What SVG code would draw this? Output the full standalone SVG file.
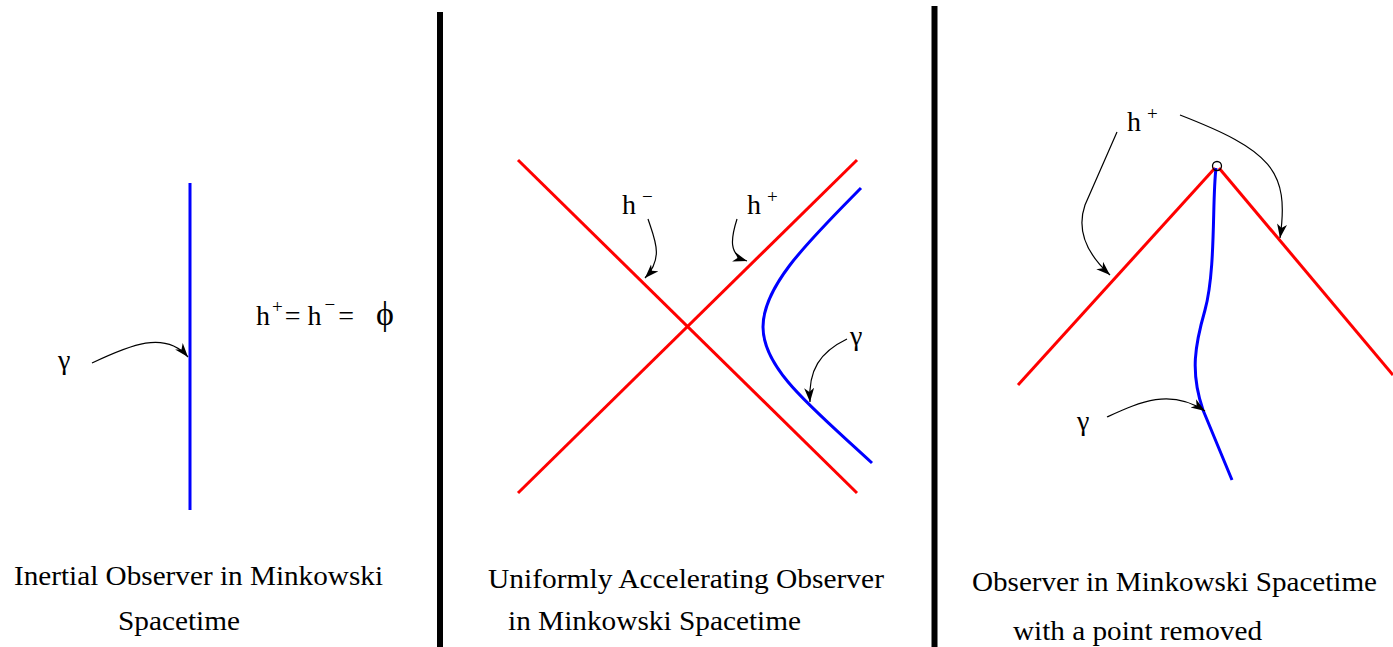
<svg xmlns="http://www.w3.org/2000/svg" width="1393" height="647" viewBox="0 0 1393 647">
<style>
.t{font-family:"Liberation Serif","Times New Roman",serif;fill:#000}
.cap{font-size:27px}
.lbl{font-size:28px}
.sup{font-size:19px}
.red{stroke:#ff0000;stroke-width:3;fill:none}
.blue{stroke:#0000ff;stroke-width:3;fill:none;stroke-linejoin:round}
.arr{stroke:#000;stroke-width:1.2;fill:none;marker-end:url(#ah)}
.bar{stroke:#000;stroke-width:6}
</style>
<defs>
<marker id="ah" markerUnits="userSpaceOnUse" markerWidth="16" markerHeight="12" refX="14" refY="5" orient="auto">
<path d="M0,0 L14,5 L0,10 L4,5 Z" fill="#000"/>
</marker>
</defs>

<g id="separators">
<line class="bar" x1="440" y1="12" x2="440" y2="647"/>
<line class="bar" x1="934.5" y1="6" x2="934.5" y2="647"/>
</g>

<g id="panel1">
<g id="p1-worldline"><line class="blue" x1="190" y1="183" x2="190" y2="510"/></g>
<g id="p1-gamma"><text class="t lbl" x="58" y="369">γ</text></g>
<g id="p1-eq"><text class="t lbl" x="256" y="325">h<tspan class="sup" dx="2" dy="-12">+</tspan><tspan dx="2" dy="12">= h</tspan><tspan class="sup" dx="3" dy="-14">−</tspan><tspan dx="3" dy="14">=</tspan><tspan dx="22" font-size="34">ϕ</tspan></text></g>
<g id="p1-caption">
<text class="t cap" x="14" y="585" textLength="369" lengthAdjust="spacingAndGlyphs">Inertial Observer in Minkowski</text>
<text class="t cap" x="118" y="630" textLength="122" lengthAdjust="spacingAndGlyphs">Spacetime</text>
</g>
</g>

<g id="panel2">
<g id="p2-horizons">
<line class="red" x1="518" y1="160" x2="857" y2="493"/>
<line class="red" x1="518" y1="493" x2="857" y2="160"/>
</g>
<g id="p2-worldline"><path class="blue" d="M861,188 C810,240 763,285 763,327 C763,370 815,410 872,463"/></g>
<g id="p2-hminus"><text class="t lbl" x="622" y="214">h<tspan class="sup" dx="6" dy="-11">−</tspan></text></g>
<g id="p2-hplus"><text class="t lbl" x="747" y="214">h<tspan class="sup" dx="6" dy="-11">+</tspan></text></g>
<g id="p2-gamma"><text class="t lbl" x="850" y="345">γ</text></g>
<g id="p2-caption">
<text class="t cap" x="488" y="588" textLength="396" lengthAdjust="spacingAndGlyphs">Uniformly Accelerating Observer</text>
<text class="t cap" x="508" y="630" textLength="293" lengthAdjust="spacingAndGlyphs">in Minkowski Spacetime</text>
</g>
</g>

<g id="panel3">
<g id="p3-lightcone">
<line class="red" x1="1215" y1="168" x2="1018" y2="385"/>
<line class="red" x1="1219" y1="168" x2="1393" y2="375"/>
</g>
<g id="p3-worldline"><path class="blue" d="M1216,168 C1212,200 1216,270 1205,310 C1195,345 1190,372 1203,410 L1232,480"/></g>
<g id="p3-removed"><circle cx="1217" cy="166" r="4.5" fill="none" stroke="#000" stroke-width="1.3"/></g>
<g id="p3-hplus"><text class="t lbl" x="1127" y="131">h<tspan class="sup" dx="6" dy="-11">+</tspan></text></g>
<g id="p3-gamma"><text class="t lbl" x="1077" y="430">γ</text></g>
<g id="p3-caption">
<text class="t cap" x="972" y="591" textLength="405" lengthAdjust="spacingAndGlyphs">Observer in Minkowski Spacetime</text>
<text class="t cap" x="1013" y="640" textLength="249" lengthAdjust="spacingAndGlyphs">with a point removed</text>
</g>
</g>

<g id="connectors">
<path class="arr" d="M92,363 C130,345 165,330 188,357"/>
<path class="arr" d="M648,219 C655,240 664,258 645,278"/>
<path class="arr" d="M737,219 C731,238 728,255 747,261"/>
<path class="arr" d="M847,339 C820,352 808,370 810,402"/>
<path class="arr" d="M1180,115 C1270,150 1290,170 1280,238"/>
<path class="arr" d="M1117,132 L1085,205 C1077,228 1085,252 1110,275"/>
<path class="arr" d="M1107,417 C1140,402 1170,388 1205,411"/>
</g>
</svg>
